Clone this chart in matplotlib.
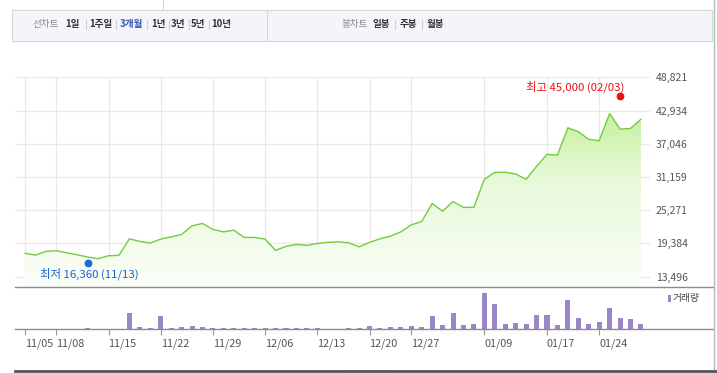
import matplotlib
matplotlib.use("Agg")
import matplotlib.pyplot as plt
import numpy as np
from matplotlib.colors import LinearSegmentedColormap
from matplotlib.patches import Rectangle, Polygon
from matplotlib.lines import Line2D
import matplotlib.transforms as mtransforms

plt.rcParams['font.family'] = ['Noto Sans CJK KR', 'DejaVu Sans']

# ---------------- data ----------------
dates = ["11/05", "11/06", "11/07", "11/08", "11/11", "11/12", "11/13", "11/14", "11/15",
         "11/18", "11/19", "11/20", "11/21", "11/22", "11/25", "11/26", "11/27", "11/28", "11/29",
         "12/02", "12/03", "12/04", "12/05", "12/06", "12/09", "12/10", "12/11", "12/12", "12/13",
         "12/16", "12/17", "12/18", "12/19", "12/20", "12/23", "12/24", "12/26", "12/27", "12/30",
         "01/02", "01/03", "01/06", "01/07", "01/08", "01/09", "01/10", "01/13", "01/14", "01/15",
         "01/16", "01/17", "01/20", "01/21", "01/22", "01/23", "01/24", "01/31", "02/03", "02/04",
         "02/05"]
close = [17630, 17330, 17980, 18090, 17740, 17380, 16980, 16680, 17210,
         17280, 20210, 19750, 19450, 20150, 20560, 20980, 22500, 22930, 21870,
         21440, 21740, 20450, 20450, 20150, 18160, 18870, 19220, 19040, 19390,
         19570, 19680, 19500, 18790, 19570, 20210, 20680, 21440, 22680, 23280,
         26460, 25100, 26810, 25760, 25810, 30750, 31990, 31990, 31690, 30750,
         33050, 35170, 35040, 39880, 39170, 37820, 37580, 42400, 39630, 39760,
         41400]
volume = [0, 0, 0, 0, 0, 0, 10, 0, 0,
          0, 163, 20, 10, 133, 10, 20, 30, 20, 10,
          10, 10, 10, 10, 10, 10, 10, 10, 10, 10,
          0, 0, 10, 10, 30, 10, 20, 20, 35, 20,
          133, 40, 163, 40, 53, 363, 250, 53, 63, 53,
          143, 143, 43, 290, 113, 53, 73, 213, 113, 103,
          53]
tick_labels = ["11/05", "11/08", "11/15", "11/22", "11/29", "12/06", "12/13",
               "12/20", "12/27", "01/09", "01/17", "01/24"]
y_ticks = [13496, 19384, 25271, 31159, 37046, 42934, 48821]
low_value, low_date = 16360, "11/13"
high_value, high_date = 45000, "02/03"
legend_label = "거래량"
header_left = ["1일", "1주일", "3개월", "1년", "3년", "5년", "10년"]
header_right = ["일봉", "주봉", "월봉"]

# ---------------- figure ----------------
W, H = 717, 373
fig = plt.figure(figsize=(W / 100, H / 100), dpi=100)
fig.patch.set_facecolor("white")


def fx(x):
    return x / W


def fy(y):
    return 1 - y / H


def hline(x0, x1, y, color, lw=1.0):
    fig.add_artist(Line2D([fx(x0), fx(x1)], [fy(y), fy(y)], color=color, lw=lw,
                          transform=fig.transFigure))


def vline(x, y0, y1, color, lw=1.0):
    fig.add_artist(Line2D([fx(x), fx(x)], [fy(y0), fy(y1)], color=color, lw=lw,
                          transform=fig.transFigure))


xi = np.arange(len(dates))
tick_idx = [dates.index(t) for t in tick_labels]
px_per_day = 10.44
x_first = 25.0
left_px = 15.0


def xlim_for(right_px):
    return ((left_px - x_first) / px_per_day, (right_px - x_first) / px_per_day)


# ---------------- header ----------------
fig.add_artist(Rectangle((fx(12), fy(40.5)), fx(712) - fx(12), fy(10) - fy(40.5),
                         transform=fig.transFigure, facecolor="#f3f5f9",
                         edgecolor="#d3d7dd", lw=0.8))
vline(163, 0, 10, "#cfd3d8", 0.8)
vline(267, 10, 40.5, "#d3d7dd", 0.8)
vline(714, 0, 373, "#b9b9b9", 1.0)

hy = 24.5
fig.text(fx(46), fy(hy), "선차트", color="#8a8a8a", fontsize=6.9, ha="center", va="center")
left_pos = [72.5, 101, 131.5, 158.5, 178, 198, 221]
for i, (lab, x) in enumerate(zip(header_left, left_pos)):
    col = "#2f55b8" if lab == "3개월" else "#333333"
    fig.text(fx(x), fy(hy), lab, color=col, fontsize=6.9, fontweight="bold",
             ha="center", va="center")
for sx in [86, 116, 147, 169, 189, 209]:
    vline(sx, hy - 4.5, hy + 4.5, "#d0d0d0", 0.8)
fig.text(fx(354.5), fy(hy), "봉차트", color="#8a8a8a", fontsize=6.9, ha="center", va="center")
for lab, x in zip(header_right, [381.5, 408.5, 435]):
    fig.text(fx(x), fy(hy), lab, color="#333333", fontsize=6.9, fontweight="bold",
             ha="center", va="center")
for sx in [395, 422]:
    vline(sx, hy - 4.5, hy + 4.5, "#d0d0d0", 0.8)

# ---------------- price axes ----------------
ax = fig.add_axes([fx(15), fy(287), fx(650) - fx(15), fy(77) - fy(287)])
ymin, ymax = 11671, 48874
ax.set_xlim(*xlim_for(650))
ax.set_ylim(ymin, ymax)
for s in ax.spines.values():
    s.set_visible(False)
ax.set_facecolor("none")
for t in tick_idx:
    ax.axvline(t, color="#e9e9e9", lw=0.9, zorder=0)
for v in y_ticks:
    ax.axhline(v, color="#e9e9e9", lw=0.9, zorder=0)

cmap = LinearSegmentedColormap.from_list("g", ["#fbfef8", "#e8f9da", "#b4ec82"])
grad = np.linspace(0, 1, 256).reshape(-1, 1)
im = ax.imshow(grad, extent=[xi[0], xi[-1], ymin, ymax], origin="lower",
               aspect="auto", cmap=cmap, zorder=1)
verts = [(xi[0], ymin)] + list(zip(xi, close)) + [(xi[-1], ymin)]
poly = Polygon(verts, closed=True, facecolor="none", edgecolor="none",
               transform=ax.transData)
ax.add_patch(poly)
im.set_clip_path(poly)
ax.plot(xi, close, color="#72cd3c", lw=1.0, zorder=3)
ax.set_xlim(*xlim_for(650))
ax.set_ylim(ymin, ymax)

ax.set_xticks([])
ax.yaxis.tick_right()
ax.set_yticks(y_ticks)
ax.set_yticklabels([f"{v:,}" for v in y_ticks], fontsize=7.5, color="#555555")
ax.tick_params(axis="y", length=0, pad=4.3)

# high / low markers
hi_i = dates.index(high_date)
lo_i = dates.index(low_date)
up = mtransforms.offset_copy(ax.transData, fig=fig, x=0, y=2.5, units="dots")
down = mtransforms.offset_copy(ax.transData, fig=fig, x=0, y=-2.5, units="dots")
ax.plot([hi_i], [high_value], "o", color="#ee1111", ms=4.6, transform=up,
        clip_on=False, zorder=5)
ax.plot([lo_i], [low_value], "o", color="#1a6ad8", ms=4.6, transform=down,
        clip_on=False, zorder=5)
ax.text(hi_i + 0.4, high_value, f"최고 {high_value:,} ({high_date})",
        transform=mtransforms.offset_copy(ax.transData, fig=fig, x=0, y=12, units="dots"),
        color="#ee1111", fontsize=8.2, ha="right", va="center", clip_on=False)
ax.text(lo_i - 4.6, low_value,
        f"최저 {low_value:,} ({low_date})",
        transform=mtransforms.offset_copy(ax.transData, fig=fig, x=0, y=-13.5, units="dots"),
        color="#1a5fd0", fontsize=8.2, ha="left", va="center", clip_on=False)

# ---------------- volume axes ----------------
axv = fig.add_axes([fx(15), fy(329), fx(713) - fx(15), fy(287) - fy(329)])
axv.set_xlim(*xlim_for(713))
axv.set_ylim(0, 420)
axv.set_facecolor("none")
for name, s in axv.spines.items():
    s.set_visible(name == "bottom")
axv.spines["bottom"].set_color("#8c8c8c")
axv.spines["bottom"].set_linewidth(1.0)
axv.bar(xi, volume, width=0.48, color="#9b86c6", zorder=2)
axv.set_yticks([])
axv.set_xticks(tick_idx)
axv.set_xticklabels(tick_labels, ha="left", fontsize=7.8, color="#555555")
axv.tick_params(axis="x", length=4.5, width=0.8, color="#999999", pad=2.5)

# legend
fig.add_artist(Rectangle((fx(668), fy(301.5)), 3 / W, 6.5 / H, transform=fig.transFigure,
                         facecolor="#9b86c6", edgecolor="none"))
fig.text(fx(673), fy(298.5), legend_label, color="#444444", fontsize=7,
         ha="left", va="center")

# separators
hline(15, 713, 287, "#8c8c8c", 1.0)
hline(15, 717, 370.8, "#555555", 2.0)
fig.add_artist(Rectangle((fx(345), fy(373)), 40 / W, 2 / H, transform=fig.transFigure,
                         facecolor="#eeeeee", edgecolor="#bbbbbb", lw=0.6))

fig.savefig("out.png", dpi=100, facecolor="white")
